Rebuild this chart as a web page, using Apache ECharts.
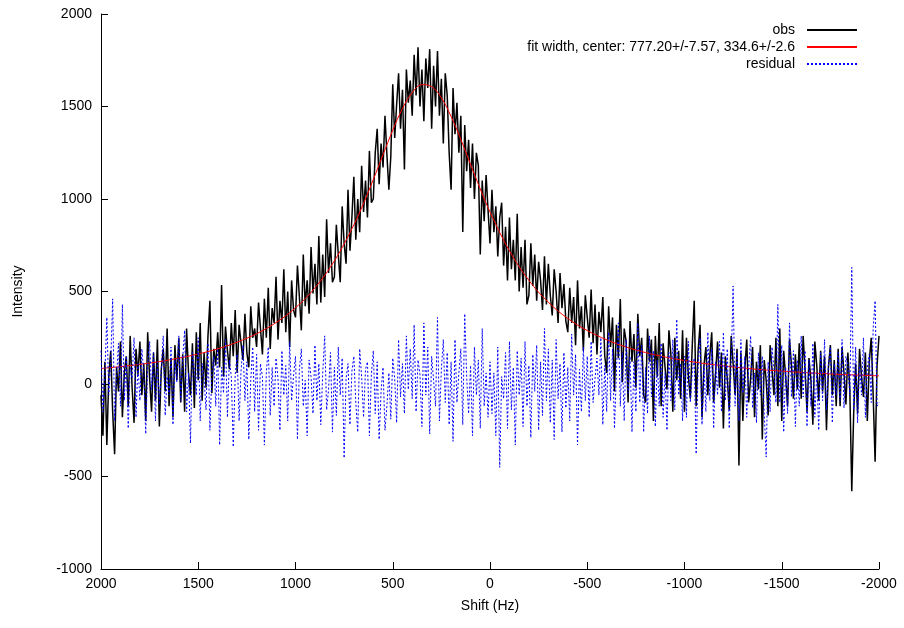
<!DOCTYPE html>
<html>
<head>
<meta charset="utf-8">
<script src="https://cdn.jsdelivr.net/npm/echarts@6/dist/echarts.min.js"></script>
<style>
  html, body { margin: 0; padding: 0; background: #fff; }
  #main { width: 904px; height: 628px; }
</style>
</head>
<body>
<div id="main"></div>
<script>
// sampling grid of the spectrum: 2000 Hz down to -2000 Hz, 10 Hz apart
var shiftStart = 2000;
var shiftStep = -10;

// observed intensity, 20 points per row (one row = 200 Hz)
var obsValues = [
  -60, -280, 120, -330, 40, 180, -150, -380, 90, -40, 230, -180, 60, 150, -120, 260, -20, -210, 190, 50,
  230, -60, 110, -200, 280, 30, -150, 170, -90, 240, -230, 80, 190, -40, 300, -120, 140, -180, 210, 20,
  250, -100, 160, -150, 300, 60, -60, 220, -130, 280, 20, 330, -90, 170, -20, 260, 450, -50, 190, 100,
  280, 90, 535, 40, 310, 180, 80, 330, 150, 400, 60, 320, 220, 130, 380, 170, 90, 420, 250, 300,
  200, 440, 300, 160, 460, 250, 520, 190, 410, 330, 580, 240, 450, 330, 620, 280, 500, 200, 560, 400,
  360, 640, 470, 290, 700, 420, 560, 380, 740, 490, 650, 430, 800, 440, 700, 470, 890, 600, 760, 550,
  580, 860, 700, 550, 960, 760, 650, 1050, 720, 900, 1120, 780, 1000, 820, 1180, 930, 1100, 900, 1260, 980,
  1000, 1250, 1380, 1080, 1300, 1170, 1450, 1240, 1050, 1230, 1620, 1330, 1510, 1680, 1380, 1590, 1160, 1700, 1520, 1640,
  1450, 1780, 1560, 1820, 1500, 1700, 1420, 1760, 1600, 1810, 1380, 1720, 1500, 1800, 1450, 1650, 1300, 1680, 1560, 1250,
  1050, 1600, 1350, 1520, 1250, 1450, 822, 1400, 1150, 1320, 1060, 1300, 1000, 1250, 1180, 700, 1100, 880, 1130, 940,
  760, 1050, 820, 960, 690, 900, 980, 640, 850, 560, 900, 620, 780, 560, 920, 500, 740, 520, 780, 430,
  480, 760, 530, 700, 450, 660, 560, 400, 690, 430, 650, 480, 370, 620, 500, 330, 600, 410, 540, 340,
  280, 520, 330, 470, 210, 560, 300, 420, 180, 480, 360, 250, 510, 220, 430, 160, 390, 280, 470, 150,
  60, 420, 200, 360, -40, 320, 140, 460, 10, 300, 230, -100, 340, 120, 270, -20, 380, 150, 250, -60,
  -100, 300, 120, 240, -200, 260, 40, 330, -120, 220, 90, -30, 290, 160, -150, 250, 20, 180, -80, 290,
  -150, 250, 40, -80, 210, 450, -120, 180, 320, -180, 100, 200, -60, 150, 280, -100, 60, 230, -20, 170,
  -240, 150, 30, -140, 260, 110, -60, 190, -440, 170, -200, 80, 240, -100, 30, 200, -180, 120, -30, 210,
  -300, 130, 20, -170, 210, 80, -60, 250, -120, 300, -200, 180, 40, -120, 240, 100, -80, 160, -30, 220,
  -80, 260, 70, -150, 140, 20, -220, 230, 100, -90, 180, -40, 150, -250, 90, 210, -60, 130, -120, 190,
  -120, 200, 60, -110, 170, -30, -580, -150, 110, -160, 190, 40, -70, 170, -200, 120, 250, -60, -420, 100,
  260
];

// residual (obs - fit), same grid
var residualValues = [
  180, -150, 60, 360, -60, 120, 460, -200, 40, 220, -120, 430, -90, 150, -240, 90, 30, 250, -180, 110,
  -90, 190, 60, -270, 100, 230, -30, 170, -200, 120, -110, 80, 260, -170, 40, -60, 200, -220, 130, 10,
  260, -90, 140, 290, -150, 60, -320, 170, 80, -60, 250, -200, 110, 30, -140, 220, -250, 60, 150, -120,
  190, -330, 90, -50, 240, -180, 130, 40, -340, 50, 160, -200, 70, 210, -90, 120, -300, 20, 200, -150,
  160, -250, 110, 40, -330, 60, 200, -170, 90, -120, 140, 30, -250, 180, -60, 100, -200, 230, -90, 50,
  150, -300, 80, 190, -120, 20, -280, 130, 40, -160, 210, -90, 110, -220, 60, 260, -140, -30, 170, -260,
  90, -170, 200, -60, 140, -400, 30, 110, -220, 70, 150, -100, -260, 190, 40, -180, 80, 120, -280, 50,
  180, -160, 120, -300, -40, 90, -250, -120, 60, -190, 140, 30, -210, 240, -70, 110, -160, 260, -30, 190,
  -80, 320, -150, 130, 50, -230, 330, -60, 200, -270, 150, 20, -120, 360, -200, 80, 240, -100, 170, -220,
  120, -310, 240, -100, 60, 190, -220, 380, 40, -160, 100, -280, 200, -60, 130, -240, 300, -120, 60, -180,
  120, -160, 60, -280, 200, -450, 40, -80, 170, -240, 230, -140, 90, -330, 180, -60, 140, -230, 230, -120,
  100, -290, 160, -40, 210, -250, 120, -170, 300, -90, 190, -210, 130, -300, 240, -80, 110, -260, 170, -130,
  90, -200, 270, -60, 160, -330, 80, -150, 200, -90, 150, -180, 230, -100, 30, 140, -60, 250, -220, 100,
  -150, 280, -90, 190, -240, 60, 330, -120, 170, -200, 240, -50, 150, -260, 120, -150, 330, -100, 210, -260,
  90, -160, 260, -70, 180, -230, 130, -120, 220, -180, 60, -250, 170, -90, 240, -140, 350, -60, 110, -200,
  150, -180, 230, -100, 60, 140, -378, 100, 250, -220, 100, -150, 280, -90, 190, -240, 120, -60, 230, -150,
  280, -90, 190, -240, 110, 530, -120, 170, -200, 240, -50, 150, -180, 90, 260, -130, 60, -210, 170, -60,
  150, -160, -395, 120, -150, 200, 80, -100, 430, -100, 210, -260, 90, -160, 330, -70, 180, -230, 130, -120,
  260, -70, 180, -230, 130, -120, 220, -180, 60, -250, 170, -90, 240, -140, 100, 200, -210, 110, -60, 170,
  -90, 240, -130, 150, 100, -60, 630, -140, 200, -210, 110, -60, 250, -180, 90, 160, -100, 300, 450, -120,
  -100
];

// fitted curve
var fitShift = [2000, 1900, 1800, 1700, 1600, 1500, 1400, 1300, 1200, 1100,
  1000, 900, 800, 700, 650, 600, 550, 500, 450, 400,
  350, 300, 250, 200, 150, 100, 50, 0, -100, -200,
  -300, -400, -500, -600, -700, -800, -900, -1000, -1100, -1200,
  -1300, -1400, -1500, -1600, -1700, -1800, -1900, -2000];
var fitValues = [84, 94, 106, 121, 140, 162, 190, 226, 272, 332,
  412, 520, 666, 860, 977, 1105, 1239, 1372, 1489, 1575,
  1618, 1607, 1547, 1446, 1322, 1187, 1054, 930, 720, 560,
  442, 354, 289, 239, 200, 170, 146, 127, 111, 98,
  87, 77, 70, 63, 57, 52, 48, 44];

var xTicks = { min: -2000, max: 2000, interval: 500 };
var yTicks = { min: -1000, max: 2000, interval: 500 };

var fitName = 'fit width, center: 777.20+/-7.57, 334.6+/-2.6';

function pairs(xs, ys) {
  var out = [];
  for (var i = 0; i < ys.length; i++) out.push([xs[i], ys[i]]);
  return out;
}
var shift = [];
for (var i = 0; i < obsValues.length; i++) shift.push(shiftStart + i * shiftStep);

var chart = echarts.init(document.getElementById('main'), null, { renderer: 'canvas' });

var axisFont = { fontFamily: 'Liberation Sans', fontSize: 14, color: '#000' };
function plain(v) { return String(v); }

chart.setOption({
  animation: false,
  backgroundColor: '#fff',
  grid: { left: 101, right: 25, top: 14, bottom: 59 },
  legend: {
    orient: 'vertical',
    right: 41,
    top: 18,
    align: 'right',
    itemGap: 3,
    itemWidth: 50,
    itemHeight: 14,
    itemStyle: { opacity: 0 },
    textStyle: { fontFamily: 'Liberation Sans', fontSize: 14, color: '#000', padding: [0, 7, 0, 0] },
    data: ['obs', fitName, 'residual']
  },
  xAxis: {
    type: 'value',
    inverse: true,
    min: xTicks.min,
    max: xTicks.max,
    interval: xTicks.interval,
    name: 'Shift (Hz)',
    nameLocation: 'middle',
    nameGap: 30,
    nameTextStyle: axisFont,
    axisLine: { onZero: false, lineStyle: { color: '#000', width: 1 } },
    axisTick: { inside: true, length: 7, lineStyle: { color: '#000' } },
    axisLabel: Object.assign({ margin: 8, formatter: plain }, axisFont),
    splitLine: { show: false }
  },
  yAxis: {
    type: 'value',
    min: yTicks.min,
    max: yTicks.max,
    interval: yTicks.interval,
    name: 'Intensity',
    nameLocation: 'middle',
    nameGap: 76,
    nameTextStyle: axisFont,
    axisLine: { show: true, onZero: false, lineStyle: { color: '#000', width: 1 } },
    axisTick: { show: true, inside: true, length: 7, lineStyle: { color: '#000' } },
    axisLabel: Object.assign({ margin: 9, formatter: plain }, axisFont),
    splitLine: { show: false }
  },
  series: [
    {
      name: 'obs',
      type: 'line',
      data: pairs(shift, obsValues),
      showSymbol: false,
      symbol: 'none',
      lineStyle: { color: '#000', width: 1.5 },
      itemStyle: { color: '#000' }
    },
    {
      name: fitName,
      type: 'line',
      data: pairs(fitShift, fitValues),
      showSymbol: false,
      symbol: 'none',
      smooth: 0.4,
      lineStyle: { color: '#ff0000', width: 1 },
      itemStyle: { color: '#ff0000' }
    },
    {
      name: 'residual',
      type: 'line',
      data: pairs(shift, residualValues),
      showSymbol: false,
      symbol: 'none',
      lineStyle: { color: '#0000ff', width: 1, type: [2, 2] },
      itemStyle: { color: '#0000ff' }
    }
  ]
});
</script>
</body>
</html>
